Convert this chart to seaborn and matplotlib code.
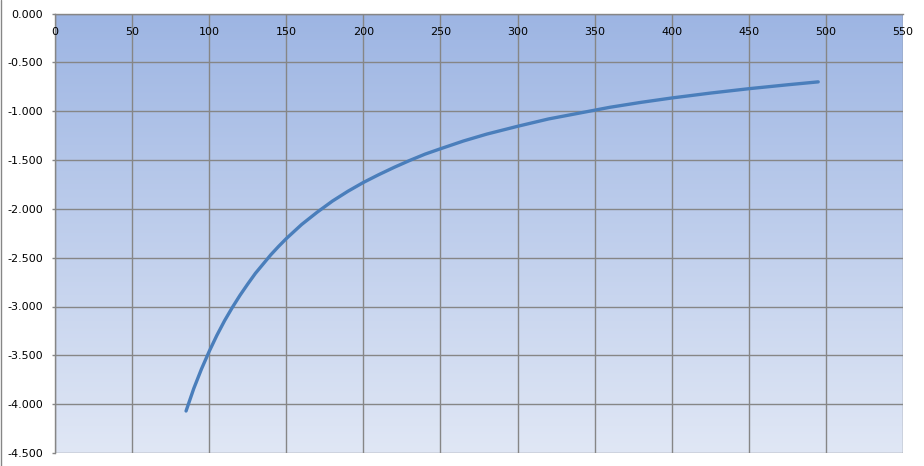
import numpy as np
import pandas as pd
import matplotlib
matplotlib.use("Agg")
import matplotlib.pyplot as plt
import seaborn as sns

# values
x_vals = [85, 90, 95, 100, 105, 110, 115, 120, 125, 130, 135, 140, 145, 150,
          160, 170, 180, 190, 200, 210, 220, 230, 240, 250, 265, 280, 300, 320,
          340, 360, 380, 400, 425, 450, 475, 495]
y_vals = [-4.07, -3.84, -3.64, -3.46, -3.295, -3.145, -3.01, -2.885, -2.77,
          -2.66, -2.565, -2.47, -2.385, -2.305, -2.16, -2.035, -1.92, -1.82,
          -1.73, -1.65, -1.575, -1.505, -1.44, -1.385, -1.305, -1.235, -1.155,
          -1.08, -1.02, -0.96, -0.91, -0.865, -0.815, -0.77, -0.73, -0.70]

x_ticks = [0, 50, 100, 150, 200, 250, 300, 350, 400, 450, 500, 550]
y_ticks = [0.0, -0.5, -1.0, -1.5, -2.0, -2.5, -3.0, -3.5, -4.0, -4.5]

df = pd.DataFrame({"x": x_vals, "y": y_vals})

sns.set_style("white")
fig = plt.figure(figsize=(9.24, 4.66), dpi=100)
ax = fig.add_axes([55 / 924, 1 - 453 / 466, 848 / 924, 439.5 / 466])

# gradient plot area like the Excel chart
top_c = np.array([157, 181, 227]) / 255
bot_c = np.array([224, 231, 245]) / 255
t = np.linspace(0, 1, 256)[:, None]
grad = top_c * (1 - t[..., None]) + bot_c * t[..., None]
ax.imshow(grad, aspect="auto", extent=[0, 1, 0, 1], transform=ax.transAxes, zorder=0)

sns.lineplot(data=df, x="x", y="y", sort=False, color="#4A7EBB", linewidth=2.4,
             ax=ax, zorder=3)

ax.set_xlim(0, 550)
ax.set_ylim(-4.5, 0)
ax.set_xticks(x_ticks)
ax.set_yticks(y_ticks)
ax.set_xticklabels([str(v) for v in x_ticks])
ax.set_yticklabels([f"{v:.3f}" for v in y_ticks])
ax.set_xlabel("")
ax.set_ylabel("")
ax.grid(True, color="#868686", linewidth=1.0, zorder=1)
ax.set_axisbelow(False)

# x labels sit just under the axis at y = 0 (top)
ax.xaxis.tick_top()
ax.tick_params(axis="x", direction="in", length=0, pad=-17, labelsize=8,
               labelcolor="black")
ax.tick_params(axis="y", direction="out", length=2.5, width=1, color="#868686",
               pad=6, labelsize=8, labelcolor="black", left=True)

for side in ["right", "bottom"]:
    ax.spines[side].set_visible(False)
for side in ["top", "left"]:
    ax.spines[side].set_color("#868686")
    ax.spines[side].set_linewidth(1.0)

# chart border line on the far left
fig.add_artist(plt.Line2D([0.6 / 924, 0.6 / 924], [0, 1], color="#868686",
                          linewidth=1.0, transform=fig.transFigure))

fig.savefig("out.png", dpi=100)
